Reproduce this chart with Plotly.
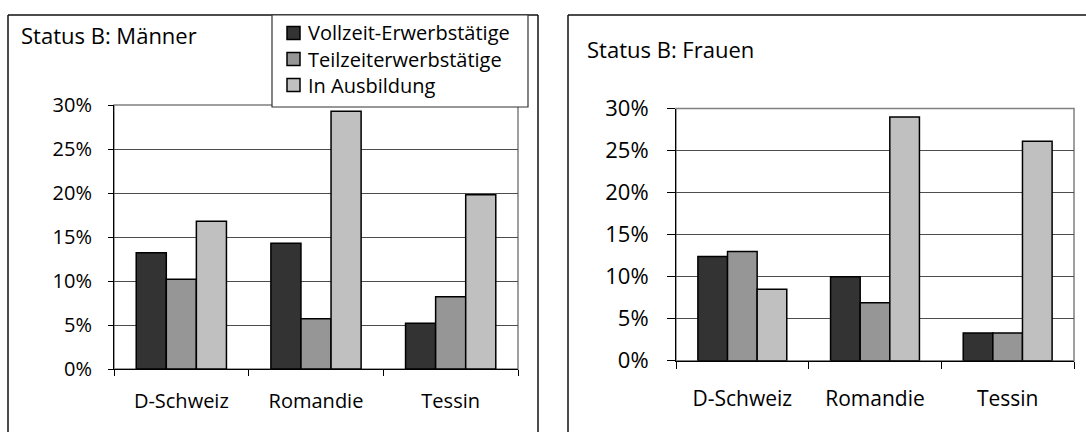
import plotly.graph_objects as go

W, H = 1086, 432

regions = ["D-Schweiz", "Romandie", "Tessin"]
series_names = ["Vollzeit-Erwerbstätige", "Teilzeiterwerbstätige", "In Ausbildung"]
series_colors = ["#333333", "#969696", "#c0c0c0"]

# Anteile in Prozent
maenner_vollzeit = [13.2, 14.3, 5.2]
maenner_teilzeit = [10.2, 5.7, 8.2]
maenner_ausbildung = [16.8, 29.3, 19.8]

frauen_vollzeit = [12.4, 10.0, 3.3]
frauen_teilzeit = [13.0, 6.9, 3.3]
frauen_ausbildung = [8.5, 29.0, 26.1]

y_ticks = [0, 5, 10, 15, 20, 25, 30]
y_ticktext = [f"{v}%" for v in y_ticks]

FONT = "Open Sans"


def px(x):
    return x / W


def py(y):
    return 1 - y / H


fig = go.Figure()

panels = [
    ("x", "y", [maenner_vollzeit, maenner_teilzeit, maenner_ausbildung]),
    ("x2", "y2", [frauen_vollzeit, frauen_teilzeit, frauen_ausbildung]),
]
for xa, ya, values in panels:
    for name, color, vals in zip(series_names, series_colors, values):
        fig.add_trace(
            go.Bar(
                x=regions,
                y=vals,
                name=name,
                xaxis=xa,
                yaxis=ya,
                marker=dict(color=color, line=dict(color="black", width=1.5)),
                showlegend=False,
            )
        )

common_x = dict(
    type="category",
    showline=True,
    linecolor="black",
    linewidth=1,
    ticks="outside",
    tickson="boundaries",
    tickcolor="black",
    showgrid=False,
    automargin=False,
    fixedrange=True,
)
common_y = dict(
    range=[0, 30],
    tickvals=y_ticks,
    ticktext=y_ticktext,
    showline=True,
    linecolor="black",
    linewidth=1,
    ticks="outside",
    tickcolor="black",
    showgrid=True,
    gridcolor="#4d4d4d",
    gridwidth=1,
    zeroline=False,
    automargin=False,
    fixedrange=True,
)

fig.update_layout(
    width=W,
    height=H,
    margin=dict(l=0, r=0, t=0, b=0, autoexpand=False),
    paper_bgcolor="white",
    plot_bgcolor="white",
    barmode="group",
    bargap=0.33,
    bargroupgap=0,
    showlegend=False,
    font=dict(family=FONT, color="black", size=19),
    xaxis=dict(common_x, domain=[px(114), px(518)], ticklen=6,
               tickfont=dict(size=20), ticklabelstandoff=14, anchor="y"),
    yaxis=dict(common_y, domain=[py(369), py(105)], ticklen=5,
               tickfont=dict(size=20), ticklabelstandoff=12, anchor="x"),
    xaxis2=dict(common_x, domain=[px(676), px(1074)], ticklen=7,
                tickfont=dict(size=21), ticklabelstandoff=19, anchor="y2"),
    yaxis2=dict(common_y, domain=[py(360.7), py(108.5)], ticklen=8,
                tickfont=dict(size=22), ticklabelstandoff=14, anchor="x2"),
)

shapes = []
# Rahmen der Diagrammflächen (oben/rechts grau)
for xa, ya in [("x", "y"), ("x2", "y2")]:
    shapes.append(dict(type="rect", xref=f"{xa} domain", yref=f"{ya} domain",
                       x0=0, x1=1, y0=0, y1=1, line=dict(color="#808080", width=1.5),
                       layer="below"))

# Außenrahmen der beiden Diagramme
box = dict(color="#111111", width=1.5)
for x0, x1 in [(8, 538), (568, W)]:
    shapes.append(dict(type="line", xref="paper", yref="paper",
                       x0=px(x0), x1=px(x1), y0=py(15), y1=py(15), line=box))
    shapes.append(dict(type="line", xref="paper", yref="paper",
                       x0=px(x0), x1=px(x0), y0=py(15), y1=0, line=box))
    if x1 < W:
        shapes.append(dict(type="line", xref="paper", yref="paper",
                           x0=px(x1), x1=px(x1), y0=py(15), y1=0, line=box))

# Legende (linkes Diagramm)
shapes.append(dict(type="rect", xref="paper", yref="paper",
                   x0=px(272), x1=px(528), y0=py(107), y1=py(15),
                   fillcolor="white", line=dict(color="#333333", width=1.2)))
legend_rows = [33, 59, 85]
annotations = []
for name, color, ry in zip(series_names, series_colors, legend_rows):
    shapes.append(dict(type="rect", xref="paper", yref="paper",
                       x0=px(287), x1=px(300), y0=py(ry + 6.5), y1=py(ry - 6.5),
                       fillcolor=color, line=dict(color="black", width=1.5)))
    annotations.append(dict(text=name, xref="paper", yref="paper",
                            x=px(306), y=py(ry), xanchor="left", yanchor="middle",
                            showarrow=False, font=dict(size=20)))

annotations.append(dict(text="Status B: Männer", xref="paper", yref="paper",
                        x=px(19), y=py(35), xanchor="left", yanchor="middle",
                        showarrow=False, font=dict(size=22)))
annotations.append(dict(text="Status B: Frauen", xref="paper", yref="paper",
                        x=px(585), y=py(49), xanchor="left", yanchor="middle",
                        showarrow=False, font=dict(size=22)))

fig.update_layout(shapes=shapes, annotations=annotations)

fig.write_html(
    "out.html",
    config={"displayModeBar": False},
    post_script="document.body.style.margin='0';",
)
